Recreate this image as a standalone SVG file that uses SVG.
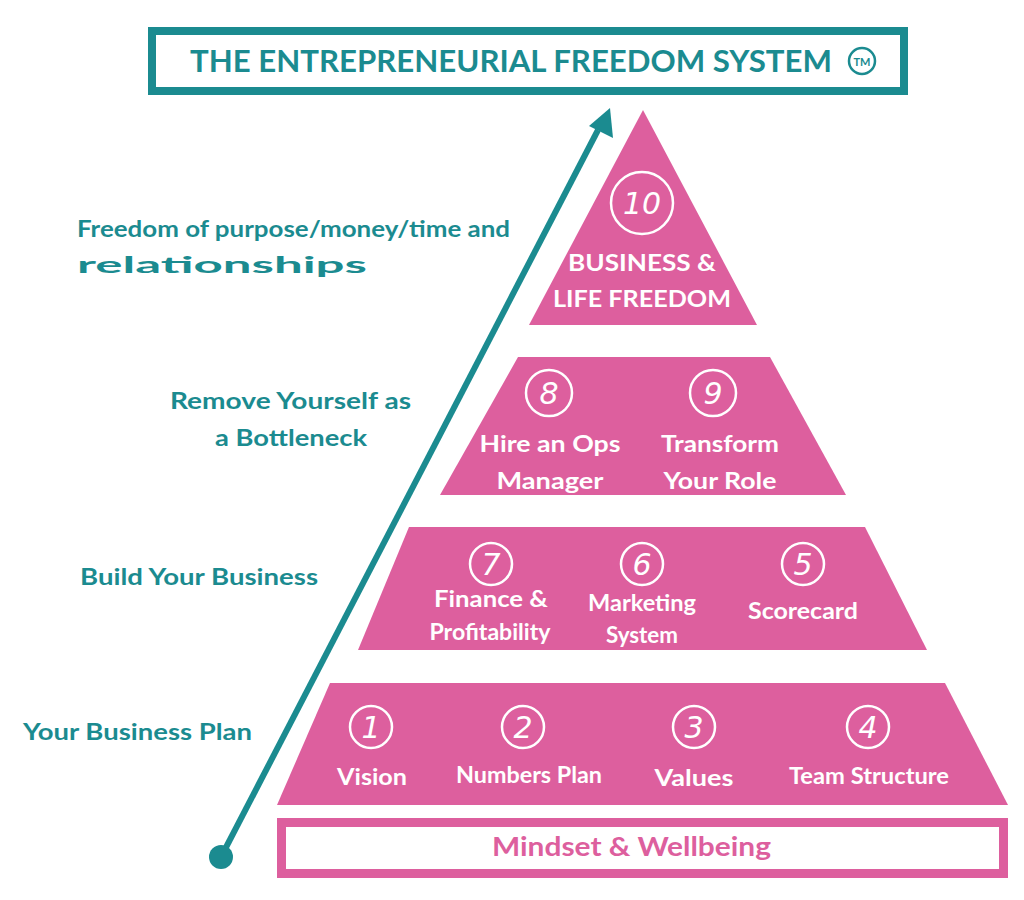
<svg xmlns="http://www.w3.org/2000/svg" width="1024" height="900" viewBox="0 0 1024 900">
<style>
.t{font-family:"Lato","Liberation Sans",sans-serif;font-weight:bold;}
.teal{fill:#1b8b90;}
.lab{fill:#1b8b90;font-size:23px;}
.w{fill:#fff;font-size:22px;text-anchor:middle;}
.n{fill:none;stroke:#fff;stroke-width:2.5;}
.num{fill:#fff;font-size:30px;text-anchor:middle;font-family:"DejaVu Sans","Liberation Sans",sans-serif;font-style:italic;}
.p{fill:#dd5f9e;}
</style>
<rect width="1024" height="900" fill="#fff"/>
<g id="title">
<rect x="152" y="31" width="752" height="60" fill="none" stroke="#1b8b90" stroke-width="8"/>
<text class="t teal" x="190" y="72" font-size="30" textLength="642" lengthAdjust="spacingAndGlyphs">THE ENTREPRENEURIAL FREEDOM SYSTEM</text>
<circle cx="862" cy="61" r="13" fill="none" stroke="#1b8b90" stroke-width="2.5"/>
<text class="t teal" x="862" y="66" font-size="11" text-anchor="middle">TM</text>
</g>
<g id="connectors">
<line x1="221" y1="857" x2="598" y2="130" stroke="#1b8b90" stroke-width="6"/>
<polygon points="610,108 613,138 589,126" fill="#1b8b90"/>
<circle cx="221" cy="857" r="12" fill="#1b8b90"/>
</g>
<g id="tier1">
<polygon class="p" points="643,110 757,325 529,325"/>
<circle class="n" cx="642" cy="203" r="31"/>
<text class="num" x="642" y="214">10</text>
<text class="t w" x="642" y="271" font-size="24" textLength="148" lengthAdjust="spacingAndGlyphs">BUSINESS &amp;</text>
<text class="t w" x="642" y="307" font-size="24" textLength="178" lengthAdjust="spacingAndGlyphs">LIFE FREEDOM</text>
</g>
<g id="tier2">
<polygon class="p" points="518,357 770,357 846,495 440,495"/>
<circle class="n" cx="549" cy="393" r="23"/>
<text class="num" x="549" y="404">8</text>
<circle class="n" cx="713" cy="393" r="23"/>
<text class="num" x="713" y="404">9</text>
<text class="t w" x="550" y="452" textLength="141" lengthAdjust="spacingAndGlyphs">Hire an Ops</text>
<text class="t w" x="550" y="489" textLength="107" lengthAdjust="spacingAndGlyphs">Manager</text>
<text class="t w" x="720" y="452" textLength="118" lengthAdjust="spacingAndGlyphs">Transform</text>
<text class="t w" x="720" y="489" textLength="113" lengthAdjust="spacingAndGlyphs">Your Role</text>
</g>
<g id="tier3">
<polygon class="p" points="409,527 865,527 927,650 358,650"/>
<circle class="n" cx="491" cy="564" r="21"/>
<text class="num" x="491" y="575">7</text>
<circle class="n" cx="642" cy="564" r="21"/>
<text class="num" x="642" y="575">6</text>
<circle class="n" cx="803" cy="564" r="21"/>
<text class="num" x="803" y="575">5</text>
<text class="t w" x="491" y="607" font-size="20" textLength="114" lengthAdjust="spacingAndGlyphs">Finance  &amp;</text>
<text class="t w" x="490" y="640" font-size="20" textLength="121" lengthAdjust="spacingAndGlyphs">Profitability</text>
<text class="t w" x="642" y="611" font-size="20" textLength="108" lengthAdjust="spacingAndGlyphs">Marketing</text>
<text class="t w" x="642" y="643" font-size="20" textLength="72" lengthAdjust="spacingAndGlyphs">System</text>
<text class="t w" x="803" y="619" font-size="20" textLength="110" lengthAdjust="spacingAndGlyphs">Scorecard</text>
</g>
<g id="tier4">
<polygon class="p" points="330,683 945,683 1008,805 277,805"/>
<circle class="n" cx="371" cy="727" r="21"/>
<text class="num" x="371" y="738">1</text>
<circle class="n" cx="523" cy="727" r="21"/>
<text class="num" x="523" y="738">2</text>
<circle class="n" cx="694" cy="727" r="21"/>
<text class="num" x="694" y="738">3</text>
<circle class="n" cx="868" cy="727" r="21"/>
<text class="num" x="868" y="738">4</text>
<text class="t w" x="372" y="785" textLength="70" lengthAdjust="spacingAndGlyphs">Vision</text>
<text class="t w" x="529" y="783" font-size="20" textLength="146" lengthAdjust="spacingAndGlyphs">Numbers Plan</text>
<text class="t w" x="694" y="786" textLength="79" lengthAdjust="spacingAndGlyphs">Values</text>
<text class="t w" x="869" y="784" font-size="20" textLength="160" lengthAdjust="spacingAndGlyphs">Team Structure</text>
</g>
<g id="mindset">
<rect x="281.5" y="822.5" width="722" height="51" fill="none" stroke="#dd5f9e" stroke-width="9"/>
<text class="t" x="492" y="856" font-size="26" fill="#dd5f9e" textLength="279" lengthAdjust="spacingAndGlyphs">Mindset &amp; Wellbeing</text>
</g>
<g id="labels">
<text class="t lab" x="77" y="237" textLength="433" lengthAdjust="spacingAndGlyphs">Freedom of purpose/money/time and</text>
<text class="t lab" x="77" y="273" textLength="290" lengthAdjust="spacingAndGlyphs">relationships</text>
<text class="t lab" x="170" y="409" textLength="241" lengthAdjust="spacingAndGlyphs">Remove Yourself as</text>
<text class="t lab" x="215" y="446" textLength="152" lengthAdjust="spacingAndGlyphs">a Bottleneck</text>
<text class="t lab" x="80" y="585" textLength="238" lengthAdjust="spacingAndGlyphs">Build Your Business</text>
<text class="t lab" x="23" y="740" textLength="229" lengthAdjust="spacingAndGlyphs">Your Business Plan</text>
</g>
</svg>
